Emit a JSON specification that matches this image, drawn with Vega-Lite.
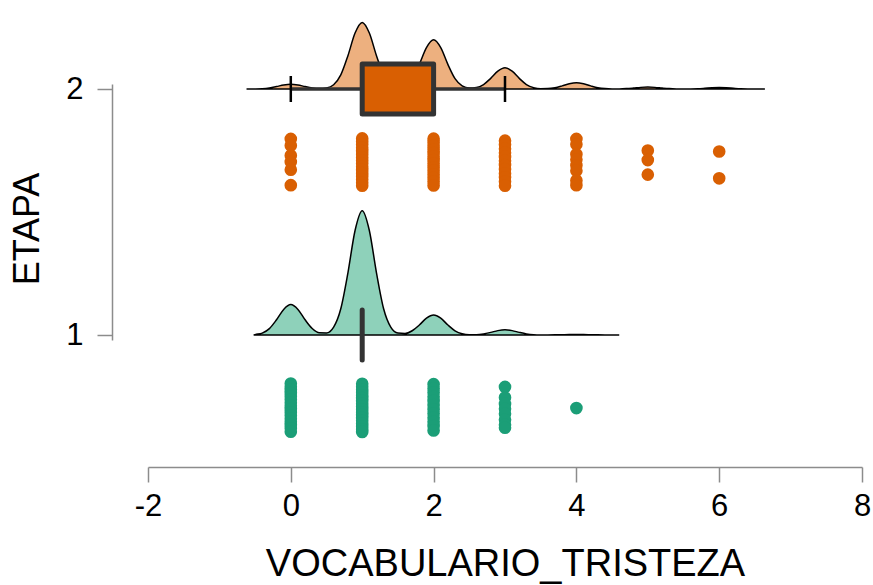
{
  "$schema": "https://vega.github.io/schema/vega-lite/v6.json",
  "width": 714,
  "height": 256,
  "autosize": "none",
  "padding": {"left": 148, "top": 84, "right": 11, "bottom": 245},
  "background": "white",
  "config": {
    "view": {"stroke": null},
    "font": "Liberation Sans",
    "axis": {
      "grid": false,
      "domainColor": "#8c8c8c",
      "domainWidth": 1.5,
      "tickColor": "#8c8c8c",
      "tickWidth": 1.5,
      "tickSize": 15,
      "labelFontSize": 31,
      "titleFontSize": 38,
      "labelColor": "black",
      "titleColor": "black",
      "titleFontWeight": "normal",
      "labelFont": "Liberation Sans",
      "titleFont": "Liberation Sans",
      "labelFlush": false,
      "labelOverlap": false
    },
    "axisX": {"offset": 127, "labelPadding": 9.5, "titlePadding": 24},
    "axisY": {"offset": 36, "labelPadding": 14, "titlePadding": 19, "titleY": 144.5, "titleFontSize": 36}
  },
  "datasets": {
    "dens": [
      {"etapa": 2, "x": -0.62, "y": 2},
      {"etapa": 2, "x": -0.5, "y": 2.0003},
      {"etapa": 2, "x": -0.4, "y": 2.0012},
      {"etapa": 2, "x": -0.3, "y": 2.0041},
      {"etapa": 2, "x": -0.2, "y": 2.0098},
      {"etapa": 2, "x": -0.1, "y": 2.0165},
      {"etapa": 2, "x": 0, "y": 2.0196},
      {"etapa": 2, "x": 0.1, "y": 2.0165},
      {"etapa": 2, "x": 0.2, "y": 2.0098},
      {"etapa": 2, "x": 0.3, "y": 2.0042},
      {"etapa": 2, "x": 0.4, "y": 2.0017},
      {"etapa": 2, "x": 0.5, "y": 2.0039},
      {"etapa": 2, "x": 0.6, "y": 2.017},
      {"etapa": 2, "x": 0.7, "y": 2.0571},
      {"etapa": 2, "x": 0.8, "y": 2.1353},
      {"etapa": 2, "x": 0.9, "y": 2.2276},
      {"etapa": 2, "x": 1.0, "y": 2.2706},
      {"etapa": 2, "x": 1.1, "y": 2.2276},
      {"etapa": 2, "x": 1.2, "y": 2.1353},
      {"etapa": 2, "x": 1.3, "y": 2.0571},
      {"etapa": 2, "x": 1.4, "y": 2.0174},
      {"etapa": 2, "x": 1.5, "y": 2.0062},
      {"etapa": 2, "x": 1.6, "y": 2.0131},
      {"etapa": 2, "x": 1.7, "y": 2.0423},
      {"etapa": 2, "x": 1.8, "y": 2.1},
      {"etapa": 2, "x": 1.9, "y": 2.1682},
      {"etapa": 2, "x": 2.0, "y": 2.2},
      {"etapa": 2, "x": 2.1, "y": 2.1682},
      {"etapa": 2, "x": 2.2, "y": 2.1},
      {"etapa": 2, "x": 2.3, "y": 2.0422},
      {"etapa": 2, "x": 2.4, "y": 2.0128},
      {"etapa": 2, "x": 2.5, "y": 2.0037},
      {"etapa": 2, "x": 2.6, "y": 2.0058},
      {"etapa": 2, "x": 2.7, "y": 2.0182},
      {"etapa": 2, "x": 2.8, "y": 2.0432},
      {"etapa": 2, "x": 2.9, "y": 2.0726},
      {"etapa": 2, "x": 3.0, "y": 2.0863},
      {"etapa": 2, "x": 3.1, "y": 2.0726},
      {"etapa": 2, "x": 3.2, "y": 2.0432},
      {"etapa": 2, "x": 3.3, "y": 2.0182},
      {"etapa": 2, "x": 3.4, "y": 2.0055},
      {"etapa": 2, "x": 3.5, "y": 2.0014},
      {"etapa": 2, "x": 3.6, "y": 2.0018},
      {"etapa": 2, "x": 3.7, "y": 2.0054},
      {"etapa": 2, "x": 3.8, "y": 2.0128},
      {"etapa": 2, "x": 3.9, "y": 2.0214},
      {"etapa": 2, "x": 4.0, "y": 2.0255},
      {"etapa": 2, "x": 4.1, "y": 2.0214},
      {"etapa": 2, "x": 4.2, "y": 2.0128},
      {"etapa": 2, "x": 4.3, "y": 2.0054},
      {"etapa": 2, "x": 4.4, "y": 2.0016},
      {"etapa": 2, "x": 4.5, "y": 2.0004},
      {"etapa": 2, "x": 4.6, "y": 2.0005},
      {"etapa": 2, "x": 4.7, "y": 2.0016},
      {"etapa": 2, "x": 4.8, "y": 2.0039},
      {"etapa": 2, "x": 4.9, "y": 2.0066},
      {"etapa": 2, "x": 5.0, "y": 2.0078},
      {"etapa": 2, "x": 5.1, "y": 2.0066},
      {"etapa": 2, "x": 5.2, "y": 2.0039},
      {"etapa": 2, "x": 5.3, "y": 2.0016},
      {"etapa": 2, "x": 5.4, "y": 2.0005},
      {"etapa": 2, "x": 5.5, "y": 2.0002},
      {"etapa": 2, "x": 5.6, "y": 2.0004},
      {"etapa": 2, "x": 5.7, "y": 2.0012},
      {"etapa": 2, "x": 5.8, "y": 2.003},
      {"etapa": 2, "x": 5.9, "y": 2.005},
      {"etapa": 2, "x": 6.0, "y": 2.0059},
      {"etapa": 2, "x": 6.1, "y": 2.005},
      {"etapa": 2, "x": 6.2, "y": 2.003},
      {"etapa": 2, "x": 6.3, "y": 2.0012},
      {"etapa": 2, "x": 6.4, "y": 2.0004},
      {"etapa": 2, "x": 6.5, "y": 2.0001},
      {"etapa": 2, "x": 6.64, "y": 2},
      {"etapa": 1, "x": -0.52, "y": 1},
      {"etapa": 1, "x": -0.5, "y": 1.0016},
      {"etapa": 1, "x": -0.4, "y": 1.0078},
      {"etapa": 1, "x": -0.3, "y": 1.0261},
      {"etapa": 1, "x": -0.2, "y": 1.0618},
      {"etapa": 1, "x": -0.1, "y": 1.1039},
      {"etapa": 1, "x": 0, "y": 1.1235},
      {"etapa": 1, "x": 0.1, "y": 1.1039},
      {"etapa": 1, "x": 0.2, "y": 1.0618},
      {"etapa": 1, "x": 0.3, "y": 1.0262},
      {"etapa": 1, "x": 0.4, "y": 1.0088},
      {"etapa": 1, "x": 0.5, "y": 1.0083},
      {"etapa": 1, "x": 0.6, "y": 1.032},
      {"etapa": 1, "x": 0.7, "y": 1.1066},
      {"etapa": 1, "x": 0.8, "y": 1.2525},
      {"etapa": 1, "x": 0.9, "y": 1.4247},
      {"etapa": 1, "x": 1.0, "y": 1.505},
      {"etapa": 1, "x": 1.1, "y": 1.4247},
      {"etapa": 1, "x": 1.2, "y": 1.2525},
      {"etapa": 1, "x": 1.3, "y": 1.1066},
      {"etapa": 1, "x": 1.4, "y": 1.032},
      {"etapa": 1, "x": 1.5, "y": 1.0078},
      {"etapa": 1, "x": 1.6, "y": 1.0061},
      {"etapa": 1, "x": 1.7, "y": 1.0172},
      {"etapa": 1, "x": 1.8, "y": 1.0406},
      {"etapa": 1, "x": 1.9, "y": 1.0683},
      {"etapa": 1, "x": 2.0, "y": 1.0812},
      {"etapa": 1, "x": 2.1, "y": 1.0683},
      {"etapa": 1, "x": 2.2, "y": 1.0406},
      {"etapa": 1, "x": 2.3, "y": 1.0171},
      {"etapa": 1, "x": 2.4, "y": 1.0051},
      {"etapa": 1, "x": 2.5, "y": 1.0014},
      {"etapa": 1, "x": 2.6, "y": 1.0015},
      {"etapa": 1, "x": 2.7, "y": 1.0045},
      {"etapa": 1, "x": 2.8, "y": 1.0106},
      {"etapa": 1, "x": 2.9, "y": 1.0178},
      {"etapa": 1, "x": 3.0, "y": 1.0212},
      {"etapa": 1, "x": 3.1, "y": 1.0178},
      {"etapa": 1, "x": 3.2, "y": 1.0106},
      {"etapa": 1, "x": 3.3, "y": 1.0045},
      {"etapa": 1, "x": 3.4, "y": 1.0013},
      {"etapa": 1, "x": 3.5, "y": 1.0004},
      {"etapa": 1, "x": 3.6, "y": 1.0003},
      {"etapa": 1, "x": 3.7, "y": 1.0006},
      {"etapa": 1, "x": 3.8, "y": 1.0012},
      {"etapa": 1, "x": 3.9, "y": 1.0018},
      {"etapa": 1, "x": 4.0, "y": 1.002},
      {"etapa": 1, "x": 4.1, "y": 1.0018},
      {"etapa": 1, "x": 4.2, "y": 1.0012},
      {"etapa": 1, "x": 4.3, "y": 1.0006},
      {"etapa": 1, "x": 4.4, "y": 1.0002},
      {"etapa": 1, "x": 4.6, "y": 1}
    ],
    "box": [
      {"etapa": 2, "lo": 0, "q1": 1, "q3": 2, "hi": 3},
      {"etapa": 1, "lo": 1, "q1": 1, "q3": 1, "hi": 1}
    ],
    "pts": [
      {"etapa": 2, "v": 0, "j": 1.797}, {"etapa": 2, "v": 0, "j": 1.770}, {"etapa": 2, "v": 0, "j": 1.730},
      {"etapa": 2, "v": 0, "j": 1.703}, {"etapa": 2, "v": 0, "j": 1.672}, {"etapa": 2, "v": 0, "j": 1.609},
      {"etapa": 2, "v": 1, "j": 1.799}, {"etapa": 2, "v": 1, "j": 1.787}, {"etapa": 2, "v": 1, "j": 1.774},
      {"etapa": 2, "v": 1, "j": 1.761}, {"etapa": 2, "v": 1, "j": 1.748}, {"etapa": 2, "v": 1, "j": 1.735},
      {"etapa": 2, "v": 1, "j": 1.722}, {"etapa": 2, "v": 1, "j": 1.709}, {"etapa": 2, "v": 1, "j": 1.697},
      {"etapa": 2, "v": 1, "j": 1.684}, {"etapa": 2, "v": 1, "j": 1.671}, {"etapa": 2, "v": 1, "j": 1.658},
      {"etapa": 2, "v": 1, "j": 1.645}, {"etapa": 2, "v": 1, "j": 1.632}, {"etapa": 2, "v": 1, "j": 1.619},
      {"etapa": 2, "v": 1, "j": 1.607},
      {"etapa": 2, "v": 2, "j": 1.798}, {"etapa": 2, "v": 2, "j": 1.784}, {"etapa": 2, "v": 2, "j": 1.769},
      {"etapa": 2, "v": 2, "j": 1.755}, {"etapa": 2, "v": 2, "j": 1.740}, {"etapa": 2, "v": 2, "j": 1.726},
      {"etapa": 2, "v": 2, "j": 1.711}, {"etapa": 2, "v": 2, "j": 1.697}, {"etapa": 2, "v": 2, "j": 1.682},
      {"etapa": 2, "v": 2, "j": 1.668}, {"etapa": 2, "v": 2, "j": 1.653}, {"etapa": 2, "v": 2, "j": 1.639},
      {"etapa": 2, "v": 2, "j": 1.624}, {"etapa": 2, "v": 2, "j": 1.608},
      {"etapa": 2, "v": 3, "j": 1.790}, {"etapa": 2, "v": 3, "j": 1.774}, {"etapa": 2, "v": 3, "j": 1.757},
      {"etapa": 2, "v": 3, "j": 1.741}, {"etapa": 2, "v": 3, "j": 1.724}, {"etapa": 2, "v": 3, "j": 1.708},
      {"etapa": 2, "v": 3, "j": 1.691}, {"etapa": 2, "v": 3, "j": 1.674}, {"etapa": 2, "v": 3, "j": 1.657},
      {"etapa": 2, "v": 3, "j": 1.641}, {"etapa": 2, "v": 3, "j": 1.624}, {"etapa": 2, "v": 3, "j": 1.607},
      {"etapa": 2, "v": 4, "j": 1.797}, {"etapa": 2, "v": 4, "j": 1.775}, {"etapa": 2, "v": 4, "j": 1.735},
      {"etapa": 2, "v": 4, "j": 1.713}, {"etapa": 2, "v": 4, "j": 1.690}, {"etapa": 2, "v": 4, "j": 1.668},
      {"etapa": 2, "v": 4, "j": 1.628}, {"etapa": 2, "v": 4, "j": 1.609},
      {"etapa": 2, "v": 5, "j": 1.750}, {"etapa": 2, "v": 5, "j": 1.711}, {"etapa": 2, "v": 5, "j": 1.652},
      {"etapa": 2, "v": 6, "j": 1.746}, {"etapa": 2, "v": 6, "j": 1.637},
      {"etapa": 1, "v": 0, "j": 0.803}, {"etapa": 1, "v": 0, "j": 0.790}, {"etapa": 1, "v": 0, "j": 0.777},
      {"etapa": 1, "v": 0, "j": 0.764}, {"etapa": 1, "v": 0, "j": 0.751}, {"etapa": 1, "v": 0, "j": 0.738},
      {"etapa": 1, "v": 0, "j": 0.725}, {"etapa": 1, "v": 0, "j": 0.712}, {"etapa": 1, "v": 0, "j": 0.699},
      {"etapa": 1, "v": 0, "j": 0.686}, {"etapa": 1, "v": 0, "j": 0.673}, {"etapa": 1, "v": 0, "j": 0.660},
      {"etapa": 1, "v": 0, "j": 0.647}, {"etapa": 1, "v": 0, "j": 0.634}, {"etapa": 1, "v": 0, "j": 0.621},
      {"etapa": 1, "v": 0, "j": 0.607},
      {"etapa": 1, "v": 1, "j": 0.802}, {"etapa": 1, "v": 1, "j": 0.790}, {"etapa": 1, "v": 1, "j": 0.778},
      {"etapa": 1, "v": 1, "j": 0.767}, {"etapa": 1, "v": 1, "j": 0.755}, {"etapa": 1, "v": 1, "j": 0.744},
      {"etapa": 1, "v": 1, "j": 0.732}, {"etapa": 1, "v": 1, "j": 0.721}, {"etapa": 1, "v": 1, "j": 0.709},
      {"etapa": 1, "v": 1, "j": 0.698}, {"etapa": 1, "v": 1, "j": 0.686}, {"etapa": 1, "v": 1, "j": 0.675},
      {"etapa": 1, "v": 1, "j": 0.663}, {"etapa": 1, "v": 1, "j": 0.652}, {"etapa": 1, "v": 1, "j": 0.640},
      {"etapa": 1, "v": 1, "j": 0.629}, {"etapa": 1, "v": 1, "j": 0.617}, {"etapa": 1, "v": 1, "j": 0.606},
      {"etapa": 1, "v": 2, "j": 0.800}, {"etapa": 1, "v": 2, "j": 0.783}, {"etapa": 1, "v": 2, "j": 0.766},
      {"etapa": 1, "v": 2, "j": 0.749}, {"etapa": 1, "v": 2, "j": 0.732}, {"etapa": 1, "v": 2, "j": 0.715},
      {"etapa": 1, "v": 2, "j": 0.698}, {"etapa": 1, "v": 2, "j": 0.681}, {"etapa": 1, "v": 2, "j": 0.664},
      {"etapa": 1, "v": 2, "j": 0.647}, {"etapa": 1, "v": 2, "j": 0.630}, {"etapa": 1, "v": 2, "j": 0.612},
      {"etapa": 1, "v": 3, "j": 0.789}, {"etapa": 1, "v": 3, "j": 0.746}, {"etapa": 1, "v": 3, "j": 0.720},
      {"etapa": 1, "v": 3, "j": 0.700}, {"etapa": 1, "v": 3, "j": 0.680}, {"etapa": 1, "v": 3, "j": 0.656},
      {"etapa": 1, "v": 3, "j": 0.635}, {"etapa": 1, "v": 3, "j": 0.623},
      {"etapa": 1, "v": 4, "j": 0.703}
    ]
  },
  "layer": [
    {
      "data": {"name": "dens"},
      "mark": {"type": "area", "stroke": "black", "strokeWidth": 1.5, "interpolate": "monotone"},
      "encoding": {
        "x": {"field": "x", "type": "quantitative", "title": "VOCABULARIO_TRISTEZA",
              "scale": {"domain": [-2, 8], "nice": false, "zero": false},
              "axis": {"values": [-2, 0, 2, 4, 6, 8], "labelExpr": "'' + datum.value"}},
        "y": {"field": "y", "type": "quantitative", "title": "ETAPA",
              "scale": {"domain": [1, 2], "nice": false, "zero": false},
              "axis": {"values": [1, 2], "labelExpr": "'' + datum.value"}},
        "y2": {"field": "etapa"},
        "fill": {"field": "etapa", "type": "nominal",
                 "scale": {"domain": [1, 2], "range": ["#8ED1BA", "#EDB07F"]}, "legend": null}
      }
    },
    {
      "data": {"name": "box"},
      "mark": {"type": "rule", "color": "#333333", "strokeWidth": 3.5},
      "encoding": {
        "x": {"field": "lo", "type": "quantitative", "title": "VOCABULARIO_TRISTEZA"},
        "x2": {"field": "hi"},
        "y": {"field": "etapa", "type": "quantitative", "title": "ETAPA"}
      }
    },
    {
      "data": {"name": "box"},
      "mark": {"type": "tick", "orient": "vertical", "size": 26, "thickness": 2.5, "color": "black", "opacity": 1},
      "encoding": {
        "x": {"field": "lo", "type": "quantitative", "title": "VOCABULARIO_TRISTEZA"},
        "y": {"field": "etapa", "type": "quantitative", "title": "ETAPA"}
      }
    },
    {
      "data": {"name": "box"},
      "mark": {"type": "tick", "orient": "vertical", "size": 26, "thickness": 2.5, "color": "black", "opacity": 1},
      "encoding": {
        "x": {"field": "hi", "type": "quantitative", "title": "VOCABULARIO_TRISTEZA"},
        "y": {"field": "etapa", "type": "quantitative", "title": "ETAPA"}
      }
    },
    {
      "data": {"name": "box"},
      "mark": {"type": "bar", "size": 50, "fill": "#D95F02", "stroke": "#333333", "strokeWidth": 5, "strokeJoin": "round"},
      "encoding": {
        "x": {"field": "q1", "type": "quantitative", "title": "VOCABULARIO_TRISTEZA"},
        "x2": {"field": "q3"},
        "y": {"field": "etapa", "type": "quantitative", "title": "ETAPA"}
      }
    },
    {
      "data": {"name": "pts"},
      "mark": {"type": "circle", "size": 160, "opacity": 1},
      "encoding": {
        "x": {"field": "v", "type": "quantitative", "title": "VOCABULARIO_TRISTEZA"},
        "y": {"field": "j", "type": "quantitative", "title": "ETAPA"},
        "color": {"field": "etapa", "type": "nominal",
                  "scale": {"domain": [1, 2], "range": ["#1B9E77", "#D95F02"]}, "legend": null}
      }
    }
  ]
}
